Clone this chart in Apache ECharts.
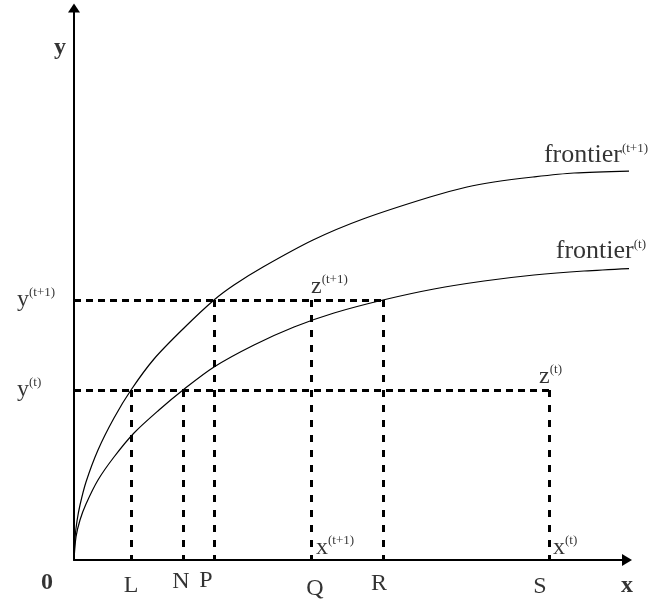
<!DOCTYPE html>
<html>
<head>
<meta charset="utf-8">
<script src="https://cdn.jsdelivr.net/npm/echarts@6/dist/echarts.min.js"></script>
<style>
  html, body { margin: 0; padding: 0; background: #fff; }
  #chart { width: 651px; height: 605px; }
</style>
</head>
<body>
<div id="chart"></div>
<script>
// axis extents (data units)
var xMax = 553
var yMax = 552

// frontier curves
var frontierNext = [[0, 0], [1, 22], [3, 39], [6, 55], [12, 78], [24, 110], [40, 142], [57, 170], [80, 201], [110, 232], [140, 260], [160, 275], [189, 293], [239, 320], [289, 341], [356, 363], [393, 373], [420, 378], [459, 383], [500, 387], [558, 389]]
var frontierNow = [[0, 0], [2, 23], [6, 40], [12, 56], [24, 80], [40, 103], [60, 127], [85, 150], [109, 170], [140, 193], [180, 215], [220, 233], [260, 247], [309, 260], [360, 271], [410, 279], [460, 285], [510, 289], [566, 292]]

// output levels and x-axis points
var yNow = 170
var yNext = 260
var tickNames = ['L', 'N', 'P', 'Q', 'R', 'S']
var tickValues = [57, 109, 140, 237, 309, 475]

var pos = {}
tickNames.forEach(function(n, i) { pos[n] = tickValues[i] })

var serif = 'Liberation Serif'
var rich = {
  m: { fontSize: 24, fontFamily: serif, color: '#000', lineHeight: 28, verticalAlign: 'bottom' },
  b: { fontSize: 24, fontFamily: serif, fontWeight: 'bold', color: '#000', lineHeight: 28, verticalAlign: 'bottom' },
  f: { fontSize: 26, fontFamily: serif, color: '#000', lineHeight: 28, verticalAlign: 'bottom' },
  s: { fontSize: 13, fontFamily: serif, color: '#000', lineHeight: 15, verticalAlign: 'bottom', padding: [0, 0, 13, 0] }
}

function lbl(value, text, align, vAlign, offset) {
  return {
    value: value,
    label: {
      show: true,
      position: 'inside',
      formatter: text,
      align: align,
      verticalAlign: vAlign,
      offset: offset,
      rich: rich
    }
  }
}

var dashH = { type: [7, 5], width: 3, color: '#000' }
var dashV = { type: [7, 8], width: 3, color: '#000' }

function hLine(x1, x2, y) {
  return [{ coord: [x1, y], lineStyle: dashH }, { coord: [x2, y] }]
}
function vLine(x, y) {
  return [{ coord: [x, y], lineStyle: dashV }, { coord: [x, 0] }]
}

var lastNext = frontierNext[frontierNext.length - 1]
var lastNow = frontierNow[frontierNow.length - 1]

var labels = [
  lbl(lastNext, '{f|frontier}{s|(t+1)}', 'right', 'bottom', [16, -3]),
  lbl(lastNow, '{f|frontier}{s|(t)}', 'right', 'bottom', [6, -4]),
  lbl([pos.Q, yNext], '{m|z}{s|(t+1)}', 'left', 'bottom', [0, -1]),
  lbl([pos.S, yNow], '{m|z}{s|(t)}', 'right', 'bottom', [13, -1]),
  lbl([0, yNext], '{m|y}{s|(t+1)}', 'left', 'middle', [-57, -2]),
  lbl([0, yNow], '{m|y}{s|(t)}', 'left', 'middle', [-57, -2]),
  lbl([pos.Q, 0], '{m|x}{s|(t+1)}', 'left', 'bottom', [5, 0]),
  lbl([pos.S, 0], '{m|x}{s|(t)}', 'left', 'bottom', [4, 0]),
  lbl([pos.L, 0], '{m|L}', 'center', 'middle', [0, 24]),
  lbl([pos.N, 0], '{m|N}', 'center', 'middle', [-2, 20]),
  lbl([pos.P, 0], '{m|P}', 'center', 'middle', [-8, 19]),
  lbl([pos.Q, 0], '{m|Q}', 'center', 'middle', [4, 27]),
  lbl([pos.R, 0], '{m|R}', 'center', 'middle', [-4, 22]),
  lbl([pos.S, 0], '{m|S}', 'center', 'middle', [-9, 25]),
  lbl([0, 0], '{b|0}', 'center', 'middle', [-27, 21]),
  lbl([xMax, 0], '{b|x}', 'center', 'middle', [0, 24]),
  lbl([0, yMax], '{b|y}', 'center', 'middle', [-14, 38])
]

var axisStyle = {
  show: true,
  lineStyle: { color: '#000', width: 2 }
}

var chart = echarts.init(document.getElementById('chart'))
chart.setOption({
  animation: false,
  backgroundColor: '#fff',
  grid: { left: 74, top: 8, right: 24, bottom: 45 },
  xAxis: {
    type: 'value',
    min: 0,
    max: xMax,
    axisLine: Object.assign({ symbol: ['none', 'triangle'], symbolSize: [12, 10] }, axisStyle),
    axisTick: { show: false },
    axisLabel: { show: false },
    splitLine: { show: false }
  },
  yAxis: {
    type: 'value',
    min: 0,
    max: yMax,
    axisLine: Object.assign({ symbol: ['none', 'triangle'], symbolSize: [12, 9] }, axisStyle),
    axisTick: { show: false },
    axisLabel: { show: false },
    splitLine: { show: false }
  },
  series: [
    {
      name: 'frontier(t+1)',
      type: 'line',
      data: frontierNext,
      smooth: 0.3,
      symbol: 'none',
      clip: false,
      silent: true,
      z: 3,
      lineStyle: { color: '#000', width: 1.2 }
    },
    {
      name: 'frontier(t)',
      type: 'line',
      data: frontierNow,
      smooth: 0.3,
      symbol: 'none',
      clip: false,
      silent: true,
      z: 3,
      lineStyle: { color: '#000', width: 1.2 },
      markLine: {
        silent: true,
        symbol: ['none', 'none'],
        label: { show: false },
        data: [
          hLine(0, pos.R, yNext),
          hLine(0, pos.S, yNow),
          vLine(pos.L, yNow),
          vLine(pos.N, yNow),
          vLine(pos.P, yNext),
          vLine(pos.Q, yNext),
          vLine(pos.R, yNext),
          vLine(pos.S, yNow)
        ]
      }
    },
    {
      name: 'labels',
      type: 'scatter',
      symbolSize: 0,
      clip: false,
      silent: true,
      data: labels
    }
  ]
})
</script>
</body>
</html>
